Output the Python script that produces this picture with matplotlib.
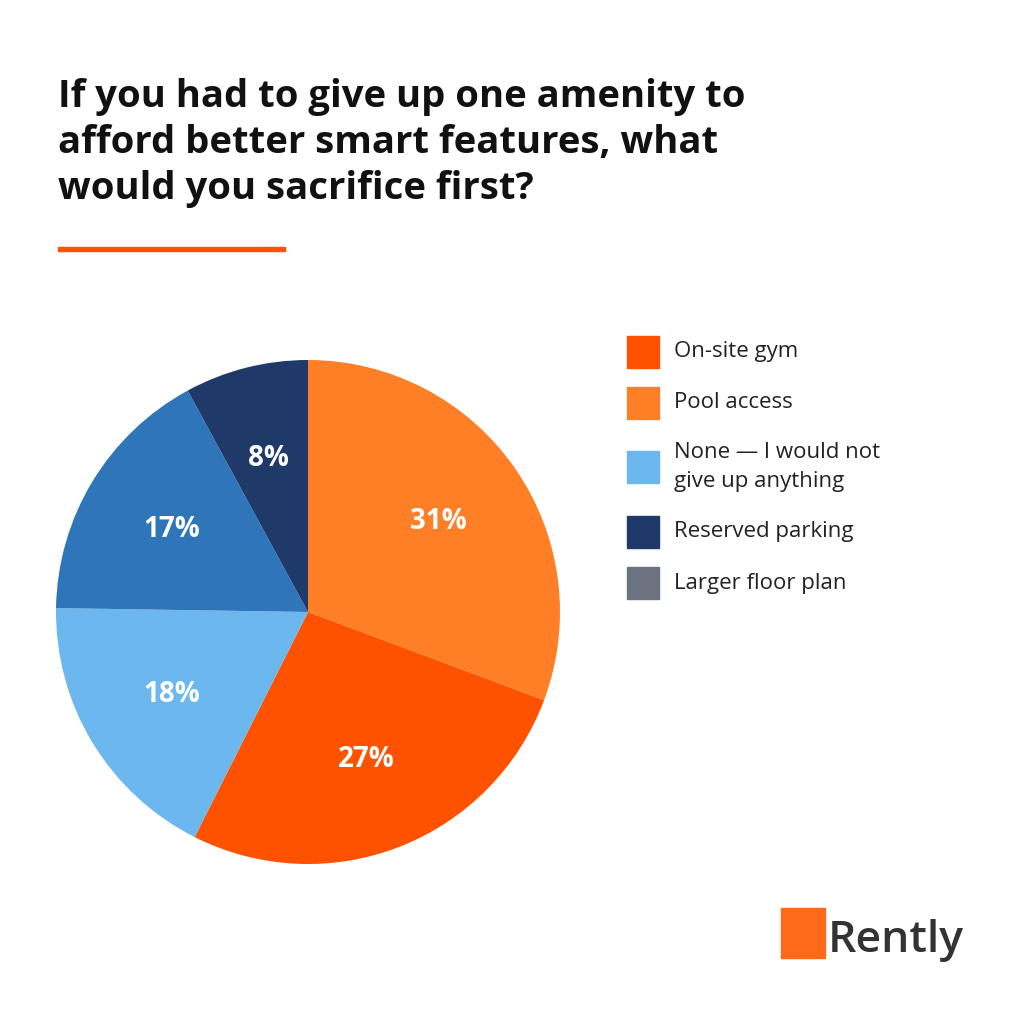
import matplotlib.pyplot as plt
from matplotlib.patches import Rectangle

title = "If you had to give up one amenity to\nafford better smart features, what\nwould you sacrifice first?"
slice_values = [31, 27, 18, 17, 8]
slice_labels = ["31%", "27%", "18%", "17%", "8%"]
slice_colors = ["#FF7F27", "#FF5200", "#6BB7EE", "#2E75B9", "#1F3A68"]
legend_labels = ["On-site gym", "Pool access", "None \u2014 I would not\ngive up anything",
                 "Reserved parking", "Larger floor plan"]
legend_colors = ["#FF5200", "#FF7F27", "#6BB7EE", "#1F3A68", "#6C7380"]

plt.rcParams["font.family"] = "Open Sans"
fig = plt.figure(figsize=(10.24, 10.24), dpi=100)
fig.patch.set_facecolor("white")

fig.text(58 / 1024, 1 - 78 / 1024, title, fontsize=27.5, fontweight="bold",
         va="top", ha="left", linespacing=1.28, color="#111111")
fig.add_artist(Rectangle((58 / 1024, 1 - 251 / 1024), 227 / 1024, 4 / 1024,
                         transform=fig.transFigure, color="#FF5200"))

cx, cy, r = 308, 612, 252
ax = fig.add_axes([(cx - r) / 1024, 1 - (cy + r) / 1024, 2 * r / 1024, 2 * r / 1024])
wedges, texts = ax.pie(slice_values, colors=slice_colors, startangle=90, counterclock=False,
                       labels=slice_labels, labeldistance=0.63,
                       textprops=dict(color="white", fontsize=20, fontweight="bold",
                                      ha="center", va="center"))
ax.set_xlim(-1, 1)
ax.set_ylim(-1, 1)
ax.set_aspect("equal")

ys = [352, 403, 467, 532, 583]
for lab, col, y in zip(legend_labels, legend_colors, ys):
    fig.add_artist(Rectangle((627 / 1024, 1 - (y + 16) / 1024), 32 / 1024, 32 / 1024,
                             transform=fig.transFigure, color=col))
    fig.text(674 / 1024, 1 - y / 1024, lab, fontsize=16, va="center", ha="left",
             color="#222222", linespacing=1.55)

fig.add_artist(Rectangle((781 / 1024, 1 - 958 / 1024), 44 / 1024, 50 / 1024,
                         transform=fig.transFigure, color="#FF6A1A"))
fig.text(828 / 1024, 1 - 940 / 1024, "Rently", fontsize=32, va="center", ha="left",
         color="#333333", fontweight="semibold")

fig.savefig("out.png", dpi=100, facecolor="white")
